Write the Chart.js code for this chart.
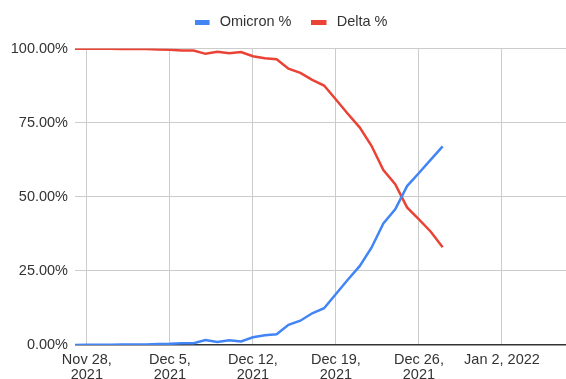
<!DOCTYPE html>
<html>
<head>
<meta charset="utf-8">
<script src="https://cdn.jsdelivr.net/npm/chart.js@4/dist/chart.umd.min.js"></script>
<style>
  html, body { margin: 0; padding: 0; background: #fff; }
  #wrap { width: 566px; height: 379px; position: relative; }
</style>
</head>
<body>
<div id="wrap"><canvas id="c"></canvas></div>
<script>
// Daily share of sequenced cases by variant
const dates = [
  "2021-11-27","2021-11-28","2021-11-29","2021-11-30","2021-12-01","2021-12-02",
  "2021-12-03","2021-12-04","2021-12-05","2021-12-06","2021-12-07","2021-12-08",
  "2021-12-09","2021-12-10","2021-12-11","2021-12-12","2021-12-13","2021-12-14",
  "2021-12-15","2021-12-16","2021-12-17","2021-12-18","2021-12-19","2021-12-20",
  "2021-12-21","2021-12-22","2021-12-23","2021-12-24","2021-12-25","2021-12-26",
  "2021-12-27","2021-12-28"
];
const omicron = [
  0.0, 0.05, 0.1, 0.1, 0.15, 0.2,
  0.2, 0.3, 0.4, 0.6, 0.6, 1.7,
  1.0, 1.6, 1.2, 2.6, 3.3, 3.6,
  6.8, 8.2, 10.7, 12.4, 17.2, 22.0,
  26.6, 32.8, 41.0, 45.8, 53.6, 58.0,
  62.5, 67.0
];
const delta = [
  99.9, 99.9, 99.9, 99.9, 99.85, 99.8,
  99.8, 99.7, 99.6, 99.3, 99.3, 98.2,
  98.9, 98.4, 98.8, 97.4, 96.7, 96.4,
  93.2, 91.8, 89.4, 87.5, 82.8, 78.0,
  73.4, 67.2, 59.0, 54.2, 46.4, 42.4,
  38.2, 33.0
];
const tickDates = ["2021-11-28","2021-12-05","2021-12-12","2021-12-19","2021-12-26","2022-01-02"];
const xTickLabels = [
  ["Nov 28,", "2021"], ["Dec 5,", "2021"], ["Dec 12,", "2021"],
  ["Dec 19,", "2021"], ["Dec 26,", "2021"], "Jan 2, 2022"
];
const yTicks = [0, 25, 50, 75, 100];

const DAY = 864e5;
const origin = Date.parse(dates[0]);
const dayOf = d => (Date.parse(d) - origin) / DAY;
const tickDays = tickDates.map(dayOf);

const FONT = { family: "'Liberation Sans', Arial, sans-serif", size: 14.5 };
const X_FONT = { family: "'Liberation Sans', Arial, sans-serif", size: 14.5, lineHeight: 1.05 };
const TEXT = '#333';
const BLUE = '#4285F4';
const RED = '#EA4335';

// Legend swatch: a 15x5 bar with some empty room on its right
function swatch(color) {
  const c = document.createElement('canvas');
  c.width = 18; c.height = 5;
  const g = c.getContext('2d');
  g.fillStyle = color;
  g.fillRect(0, 0, 15, 5);
  return c;
}

// Extra room below the legend, and a small rightward nudge of its row
const legendGap = {
  id: 'legendGap',
  beforeLayout(chart) {
    const lg = chart.legend;
    if (lg && !lg._gapWrapped) {
      const fit = lg.fit.bind(lg);
      lg.fit = function () { fit(); this.height += 9; };
      lg._gapWrapped = true;
    }
  },
  afterLayout(chart) {
    const lg = chart.legend;
    if (lg) { lg.left += 8; lg.right += 8; }
  }
};

const series = (vals) => vals.map((v, i) => ({ x: dayOf(dates[i]), y: v }));

new Chart(document.getElementById('c'), {
  type: 'line',
  data: {
    datasets: [
      { label: 'Omicron %', data: series(omicron), borderColor: BLUE, backgroundColor: BLUE,
        pointStyle: swatch(BLUE), borderWidth: 2.5, pointRadius: 0, tension: 0 },
      { label: 'Delta %', data: series(delta), borderColor: RED, backgroundColor: RED,
        pointStyle: swatch(RED), borderWidth: 2.5, pointRadius: 0, tension: 0 }
    ]
  },
  plugins: [legendGap],
  options: {
    responsive: true,
    maintainAspectRatio: false,
    animation: false,
    layout: { padding: { top: -5, right: 0, left: 0, bottom: 0 } },
    plugins: {
      legend: {
        position: 'top',
        labels: { usePointStyle: true, pointStyleWidth: 18, boxHeight: 5, padding: 20, color: TEXT, font: FONT }
      },
      tooltip: { enabled: false }
    },
    scales: {
      x: {
        type: 'linear',
        min: 0,
        max: 41.4,
        afterBuildTicks: (scale) => { scale.ticks = tickDays.map(v => ({ value: v })); },
        afterFit: (scale) => { scale.height = 34; },
        ticks: {
          autoSkip: false,
          maxRotation: 0,
          padding: 7,
          color: TEXT,
          font: X_FONT,
          callback: (v) => { const i = tickDays.indexOf(v); return i >= 0 ? xTickLabels[i] : ''; }
        },
        grid: { color: '#cccccc', lineWidth: 1, drawTicks: false },
        border: { display: false }
      },
      y: {
        min: 0,
        max: 100,
        afterBuildTicks: (scale) => { scale.ticks = yTicks.map(v => ({ value: v })); },
        afterFit: (scale) => { scale.width = 75; },
        ticks: {
          padding: 7,
          color: TEXT,
          font: FONT,
          callback: (v) => v.toFixed(2) + '%'
        },
        grid: {
          color: (ctx) => ctx.tick && ctx.tick.value === 0 ? '#333333' : '#cccccc',
          lineWidth: (ctx) => ctx.tick && ctx.tick.value === 0 ? 1.5 : 1,
          drawTicks: false
        },
        border: { display: false }
      }
    }
  }
});
</script>
</body>
</html>
